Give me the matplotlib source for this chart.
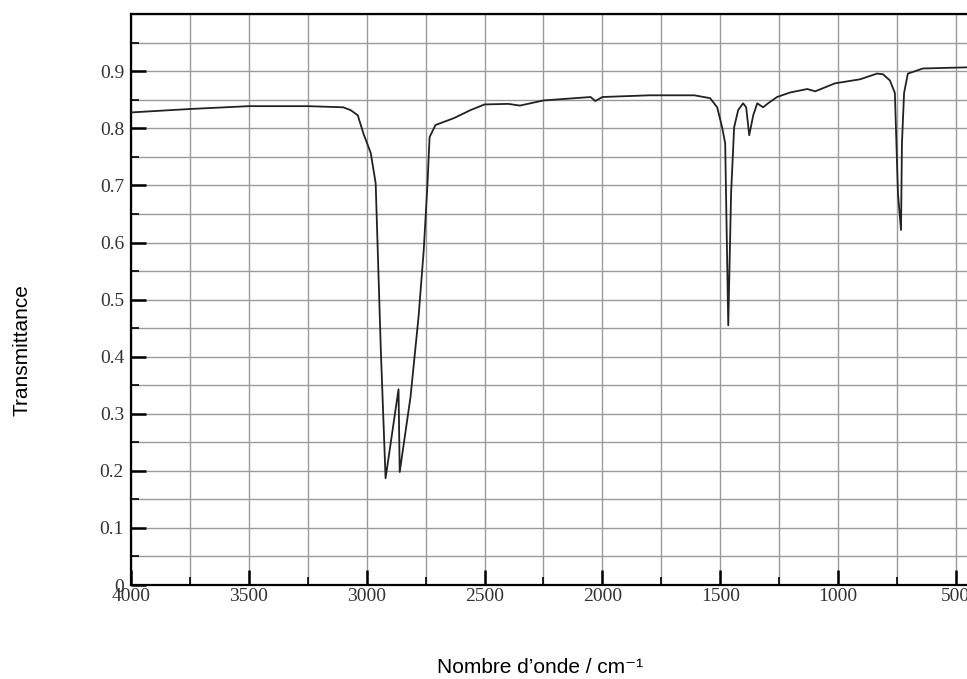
import matplotlib.pyplot as plt
from matplotlib.ticker import MultipleLocator

# IR spectrum values (wavenumber in cm-1, transmittance)
wavenumber = [4000, 3750, 3500, 3250, 3100, 3068, 3038, 3013, 2983, 2962, 2940,
              2920, 2865, 2860, 2814, 2780, 2758, 2742, 2736, 2733, 2708, 2630,
              2560, 2500, 2400, 2350, 2250, 2050, 2030, 2000, 1800, 1610, 1543,
              1513, 1492, 1479, 1466, 1454, 1441, 1424, 1403, 1390, 1377, 1360,
              1343, 1318, 1297, 1259, 1203, 1131, 1097, 1013, 907, 835, 810, 780,
              759, 746, 733, 729, 720, 704, 640, 453]
transmittance = [0.828, 0.834, 0.839, 0.839, 0.837, 0.832, 0.823, 0.790, 0.757,
                 0.704, 0.410, 0.187, 0.343, 0.198, 0.330, 0.470, 0.587, 0.704,
                 0.760, 0.785, 0.806, 0.818, 0.832, 0.842, 0.843, 0.840, 0.849,
                 0.855, 0.848, 0.855, 0.858, 0.858, 0.853, 0.837, 0.802, 0.774,
                 0.455, 0.686, 0.802, 0.832, 0.844, 0.837, 0.788, 0.823, 0.844,
                 0.837, 0.844, 0.855, 0.863, 0.869, 0.865, 0.879, 0.886, 0.896,
                 0.895, 0.884, 0.862, 0.686, 0.622, 0.774, 0.862, 0.896, 0.905,
                 0.907]
y_ticks = [0, 0.1, 0.2, 0.3, 0.4, 0.5, 0.6, 0.7, 0.8, 0.9]
y_labels = ['0', '0.1', '0.2', '0.3', '0.4', '0.5', '0.6', '0.7', '0.8', '0.9']

fig = plt.figure(figsize=(9.67, 6.79), dpi=100)
ax = fig.add_axes([0.1355, 0.1384, 0.8645, 0.8406])

ax.plot(wavenumber, transmittance, color='#222222', lw=1.3, zorder=3)

ax.set_xlim(4000, 453)
ax.set_ylim(0, 1.0)

ax.xaxis.set_major_locator(MultipleLocator(500))
ax.xaxis.set_minor_locator(MultipleLocator(250))
ax.yaxis.set_minor_locator(MultipleLocator(0.05))
ax.set_yticks(y_ticks)
ax.set_yticklabels(y_labels)

ax.grid(which='both', color='#9a9a9a', lw=1.0, zorder=0)

ax.tick_params(which='major', direction='in', length=11, width=1.8, color='black',
               labelsize=14, pad=5)
ax.tick_params(which='minor', direction='in', length=6, width=1.2, color='black')
ax.tick_params(axis='x', pad=2)
for lab in ax.get_xticklabels() + ax.get_yticklabels():
    lab.set_family('Liberation Serif')
    lab.set_color('#333333')

ax.spines['right'].set_visible(False)
for side in ['left', 'bottom', 'top']:
    ax.spines[side].set_linewidth(1.6)

fig.text(0.023, 0.485, 'Transmittance', rotation=90, va='center', ha='center',
         family=['Liberation Sans', 'DejaVu Sans'], fontsize=15)
fig.text(0.558, 0.017, 'Nombre d\u2019onde / cm\u207b\u00b9', va='center', ha='center',
         family=['Liberation Sans', 'DejaVu Sans'], fontsize=15)

plt.savefig('out.png', dpi=100)
